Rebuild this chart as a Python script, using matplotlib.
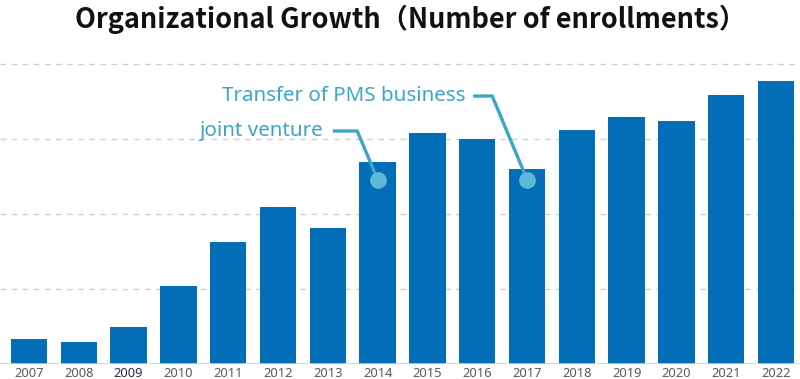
import matplotlib
matplotlib.use("Agg")
import matplotlib.pyplot as plt

years = ["2007", "2008", "2009", "2010", "2011", "2012", "2013", "2014",
         "2015", "2016", "2017", "2018", "2019", "2020", "2021", "2022"]
enrollments = [34, 29, 49, 104, 163, 210, 181, 269,
               308, 300, 260, 312, 329, 324, 359, 377]
grid_values = [100, 200, 300, 400]

title = "Organizational Growth（Number of enrollments）"
ann_jv = "joint venture"
ann_pms = "Transfer of PMS business"

bar_color = "#036EB8"
ann_color = "#3DA5C8"
dot_color = "#5DB9D6"

fig = plt.figure(figsize=(8.0, 3.79), dpi=100)
ax = fig.add_axes([0.0, 15 / 379, 1.0, (364 - 60.25) / 379])

x = list(range(len(years)))
ax.bar(x, enrollments, width=0.73, color=bar_color, zorder=3)

ax.set_xlim(-0.582, 15.48)
ax.set_ylim(0, 405)
for g in grid_values:
    ax.axhline(g, color="#cfcfcf", lw=1.0, ls=(0, (4, 4)), zorder=1)
ax.axhline(0, color="#cfcfcf", lw=1.2, zorder=4)

for s in ax.spines.values():
    s.set_visible(False)
ax.set_yticks([])
ax.set_xticks(x)
ax.set_xticklabels(years, fontsize=9.3, color="#5a5a5a", family="Noto Sans")
ax.tick_params(axis="x", length=0, pad=2.5)
ax.get_xticklabels()[2].set_color("#2E2450")

# annotations
i_jv = years.index("2014")
i_pms = years.index("2017")
dot_y = 246
ax.plot([i_jv], [dot_y], "o", ms=11, color=dot_color, zorder=6)
ax.plot([i_pms], [dot_y], "o", ms=11, color=dot_color, zorder=6)

ax.plot([6.10, 6.59, i_jv], [310.7, 310.7, dot_y], color=ann_color, lw=2.4,
        zorder=5, solid_capstyle="butt", solid_joinstyle="round")
ax.plot([8.92, 9.30, i_pms], [357.3, 357.3, dot_y], color=ann_color, lw=2.4,
        zorder=5, solid_capstyle="butt", solid_joinstyle="round")

ax.text(5.90, 310.7, ann_jv, ha="right", va="center", fontsize=14.8,
        color=ann_color, family="Noto Sans", zorder=7)
ax.text(8.755, 357.3, ann_pms, ha="right", va="center", fontsize=14.8,
        color=ann_color, family="Noto Sans", zorder=7)

fig.text(0.5135, 1 - 19 / 379, title, ha="center", va="center", fontsize=19.5,
         fontweight="bold", color="#111111",
         family=["Noto Sans CJK JP", "DejaVu Sans"])

fig.savefig("out.png", dpi=100, facecolor="white")
